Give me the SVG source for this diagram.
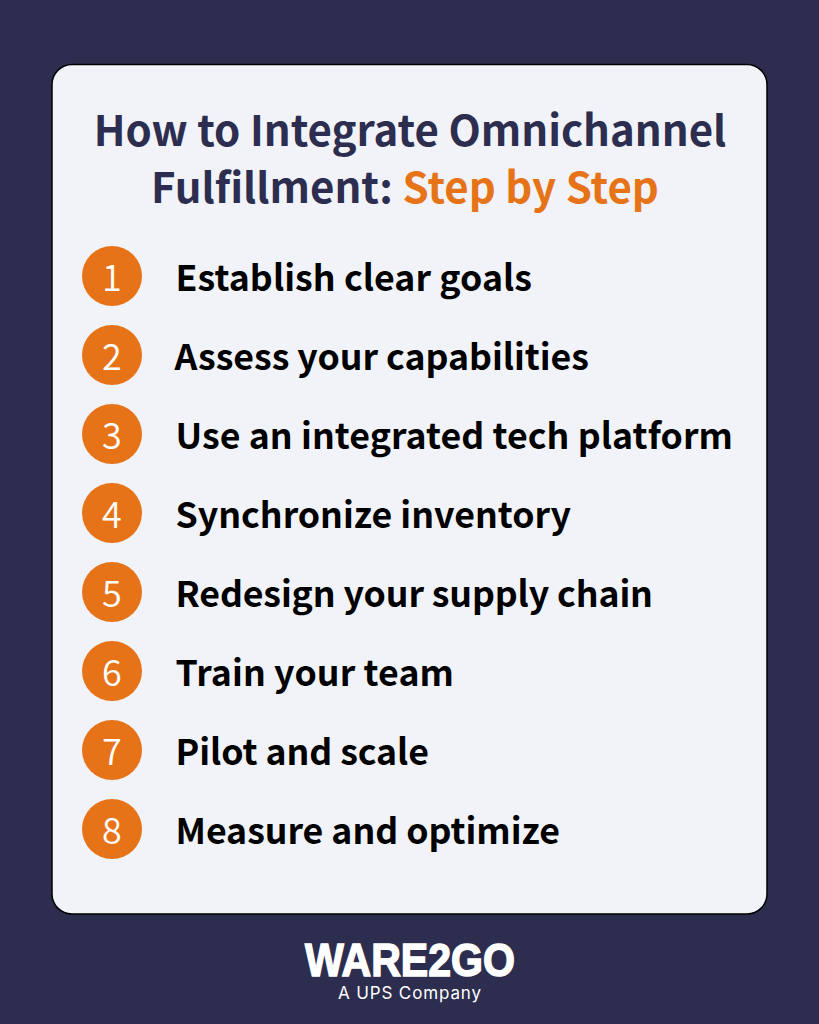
<svg xmlns="http://www.w3.org/2000/svg" width="819" height="1024" viewBox="0 0 819 1024">
<style>
.t{font-family:"Noto Sans CJK SC","Noto Sans",sans-serif;font-weight:700}
.title{font-size:42px;fill:#2d2e4f}
.item{font-size:35.700px;fill:#000}
.n{font-family:"Noto Sans CJK SC","Noto Sans",sans-serif;font-weight:350;font-size:36px;fill:#fff;text-anchor:middle}
.c{fill:#e77318}
</style>
<rect width="819" height="1024" fill="#2d2e4f"/>
<rect id="card" x="52" y="64.500" width="715" height="849.500" rx="20" fill="#f1f3f9" stroke="#000" stroke-width="1.500"/>
<g id="title" class="t title"><text x="410" y="146" text-anchor="middle">How to Integrate Omnichannel</text>
<text x="405" y="203" text-anchor="middle">Fulfillment: <tspan fill="#e77318">Step by Step</tspan></text></g>
<g id="step1"><circle class="c" cx="112" cy="276" r="30"/><text class="n" x="112" y="291">1</text><text class="t item" x="175.500" y="291" textLength="356.500">Establish clear goals</text></g>
<g id="step2"><circle class="c" cx="112" cy="355" r="30"/><text class="n" x="112" y="370">2</text><text class="t item" x="174.500" y="370" textLength="414.500">Assess your capabilities</text></g>
<g id="step3"><circle class="c" cx="112" cy="434" r="30"/><text class="n" x="112" y="449">3</text><text class="t item" x="175.500" y="449" textLength="557.500">Use an integrated tech platform</text></g>
<g id="step4"><circle class="c" cx="112" cy="513" r="30"/><text class="n" x="112" y="528">4</text><text class="t item" x="175.500" y="528" textLength="395.500">Synchronize inventory</text></g>
<g id="step5"><circle class="c" cx="112" cy="592" r="30"/><text class="n" x="112" y="607">5</text><text class="t item" x="175.500" y="607" textLength="477.500">Redesign your supply chain</text></g>
<g id="step6"><circle class="c" cx="112" cy="671" r="30"/><text class="n" x="112" y="686">6</text><text class="t item" x="175.500" y="686" textLength="278.500">Train your team</text></g>
<g id="step7"><circle class="c" cx="112" cy="750" r="30"/><text class="n" x="112" y="765">7</text><text class="t item" x="175.500" y="765" textLength="253.500">Pilot and scale</text></g>
<g id="step8"><circle class="c" cx="112" cy="829" r="30"/><text class="n" x="112" y="844">8</text><text class="t item" x="175.500" y="844" textLength="384.500">Measure and optimize</text></g>
<g id="logo"><text x="410" y="976" text-anchor="middle" font-family="'Liberation Sans',sans-serif" font-weight="700" font-size="47" fill="#fff" stroke="#fff" stroke-width="1.500" textLength="210" lengthAdjust="spacingAndGlyphs">WARE2GO</text>
<text x="409.500" y="999" text-anchor="middle" font-family="Inter,sans-serif" font-size="17" fill="#fff" textLength="143">A UPS Company</text></g>
</svg>
